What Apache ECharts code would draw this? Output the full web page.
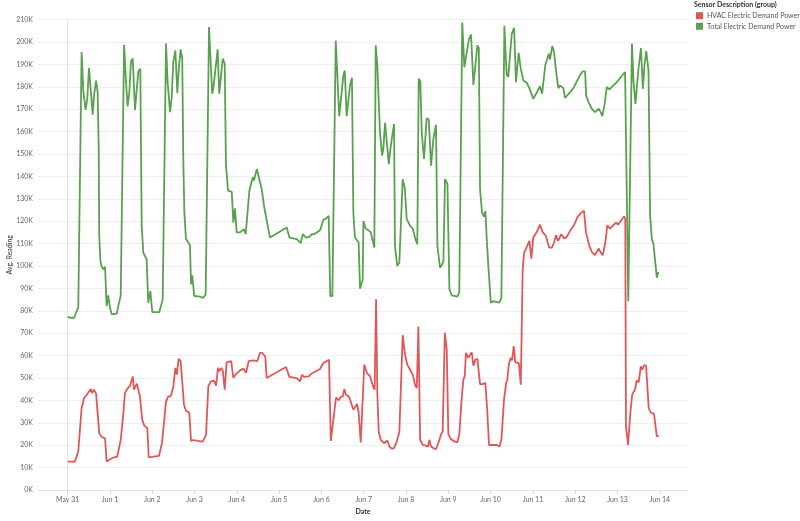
<!DOCTYPE html>
<html>
<head>
<meta charset="utf-8">
<script src="https://cdn.jsdelivr.net/npm/echarts@6/dist/echarts.min.js"></script>
<style>
html,body{margin:0;padding:0;background:#fff;}
#chart{width:800px;height:521px;}
</style>
</head>
<body>
<div id="chart"></div>
<script>
// Tick labels (one per day, at hour offsets 0,24,...,336 from May 31 00:00)
const dayLabels = ['May 31','Jun 1','Jun 2','Jun 3','Jun 4','Jun 5','Jun 6','Jun 7','Jun 8','Jun 9','Jun 10','Jun 11','Jun 12','Jun 13','Jun 14'];
const seriesNames = ['HVAC Electric Demand Power','Total Electric Demand Power'];

// [hours since May 31 00:00, average reading]
const hvacPoints = [[0,12700],[4.1,12700],[6.0,17200],[7.9,36600],[9.3,41000],[10.8,42500],[11.7,41800],[13.1,45100],[13.8,43300],[14.9,44800],[16.1,43000],[17.0,34300],[17.9,25400],[19.3,23600],[21.2,23100],[22.1,12700],[24.0,13700],[25.9,14500],[28.1,14900],[30.1,22400],[31.6,34300],[32.5,43300],[33.5,44800],[35.4,46600],[36.1,46300],[36.9,50700],[37.6,44800],[39.2,47500],[40.1,48000],[41.0,41800],[42.3,31300],[43.5,28700],[45.2,27600],[46.0,14600],[46.7,15200],[51.8,15200],[53.5,20900],[55.8,39500],[57.1,41800],[58.5,41800],[59.9,46000],[61.1,54500],[61.9,51500],[63.0,58500],[64.1,57500],[66.0,38100],[67.1,35400],[69.0,34600],[70.0,21900],[71.3,22300],[76.6,21600],[77.4,20900],[78.5,24600],[79.8,46300],[81.2,48500],[83.0,48800],[84.2,46600],[85.3,54500],[86.0,53000],[87.2,54500],[88.0,53400],[89.1,44800],[90.2,57000],[92.8,57500],[94.0,50000],[95.2,51500],[97.8,53400],[99.7,54200],[101.2,52300],[102.7,57500],[105.3,57900],[107.6,57500],[109.1,61200],[110.3,61200],[112.1,59700],[112.9,50000],[123.9,54900],[125.8,50500],[130.0,49900],[131.8,48500],[133.0,51400],[134.1,50500],[136.8,50700],[138.2,51900],[143.2,54000],[145.1,56700],[148.3,58100],[149.3,21900],[150.0,22400],[152.3,41300],[153.8,40000],[154.9,41500],[156.1,41800],[157.0,45100],[157.9,42500],[159.5,41800],[160.6,39500],[162.1,35800],[163.0,35500],[164.2,38400],[165.1,34600],[166.3,21200],[167.4,20500],[168.3,56000],[169.7,52300],[171.6,50700],[172.5,50300],[173.4,46000],[174.2,44800],[175.0,85100],[175.7,43300],[176.5,26100],[177.6,22400],[179.5,20900],[180.6,20600],[181.4,22100],[182.5,19400],[184.0,18400],[185.2,18700],[186.7,21600],[188.2,25800],[189.1,25800],[190.1,69100],[191.4,60500],[192.7,56000],[194.3,53700],[195.8,51500],[197.1,47000],[198.1,45500],[199.0,73000],[200.0,22400],[201.5,20100],[202.8,19900],[203.7,20100],[204.5,19400],[205.2,22400],[206.2,19400],[207.5,18700],[209.0,18200],[210.9,22400],[212.0,25100],[212.8,26100],[214.0,70200],[215.1,62700],[216.0,25100],[217.4,22700],[219.8,21600],[221.1,21300],[222.2,24600],[223.6,41000],[224.5,49300],[225.3,50700],[226.0,61200],[227.3,59000],[228.3,58200],[229.3,61500],[230.2,55500],[231.3,58200],[232.5,58500],[234.0,47300],[235.5,47300],[237.0,47800],[238.1,35100],[239.1,20100],[243.5,20100],[245.0,19400],[246.1,22400],[247.6,40300],[248.8,47800],[249.5,49300],[250.3,56000],[251.4,59000],[252.2,57900],[253.1,64200],[254.0,57000],[256.0,56700],[257.1,47000],[258.2,98500],[259.0,106000],[260.1,107800],[261.2,107200],[262.0,111200],[263.1,103300],[264.2,112700],[266.2,115200],[268.0,118500],[269.6,115000],[271.4,113400],[273.3,108200],[274.8,108200],[276.0,110500],[277.1,113700],[278.3,111200],[280.1,114200],[281.7,112300],[283.2,113000],[285.1,115700],[287.3,118200],[289.2,121700],[291.5,123900],[293.0,124600],[294.1,115000],[296.0,109000],[297.4,106300],[299.1,104800],[299.8,104800],[301.3,107800],[302.5,106000],[303.6,104800],[305.1,110500],[306.2,118200],[307.8,116700],[309.6,118200],[311.2,119400],[312.3,118400],[313.8,120100],[315.7,122100],[316.4,120900],[316.8,28300],[318.0,20100],[319.1,32800],[320.3,42500],[322.0,45100],[322.9,48900],[324.0,48000],[325.2,55200],[326.1,53700],[327.0,55700],[328.2,55500],[329.7,36600],[330.8,34600],[332.7,34000],[334.3,23900],[335.4,24200]];

const totalPoints = [[0,77300],[1.3,76900],[2.4,76100],[3.6,76900],[4.7,79100],[6.0,81400],[7.9,195500],[8.9,177600],[10.2,169700],[11.1,174600],[12.1,188400],[13.1,187600],[14.2,167500],[14.9,176100],[16.1,182800],[17.0,177600],[17.6,152300],[17.9,113400],[18.6,102000],[19.3,99700],[20.2,98500],[21.2,99700],[22.1,82100],[23.0,86900],[24.0,81400],[25.0,78400],[27.8,78700],[28.7,82100],[30.1,86900],[32.0,198800],[33.1,182100],[34.0,171200],[35.0,177600],[35.9,191300],[36.9,192600],[38.2,169700],[39.2,179100],[40.1,186900],[41.2,188100],[42.0,117900],[42.9,106000],[44.8,103000],[45.7,83600],[46.9,88800],[48.0,79400],[52.0,79400],[53.9,85100],[55.8,199300],[56.7,182100],[58.1,168700],[59.0,175000],[59.9,191000],[61.1,196300],[62.2,177200],[63.2,189600],[64.1,196700],[65.0,192600],[65.6,147800],[66.2,123900],[67.1,112300],[68.4,110500],[69.4,109300],[70.0,91800],[70.7,95800],[71.8,86600],[75.1,86300],[77.0,85800],[77.5,85100],[78.3,87300],[80.2,206700],[82.0,176900],[82.6,179100],[85.1,196700],[86.0,176900],[88.0,192600],[89.1,190300],[89.8,145300],[91.0,133600],[93.1,133100],[94.0,119400],[94.9,125700],[95.9,115000],[97.8,115000],[100.0,116400],[101.0,114200],[101.9,115000],[103.1,133600],[103.9,134000],[105.0,139600],[105.7,138100],[107.3,143300],[108.7,138800],[110.1,134300],[111.4,126900],[112.4,126100],[113.5,117900],[114.8,112700],[124.3,117200],[125.8,112700],[130.0,112000],[130.9,111200],[132.2,110200],[133.4,114200],[135.2,112700],[137.1,113000],[138.5,114200],[139.8,114200],[143.2,116000],[145.1,120600],[146.6,121200],[148.1,122400],[149.0,86600],[150.2,86600],[152.1,200700],[154.1,166900],[156.4,184800],[157.2,187300],[158.3,166900],[160.2,180600],[161.3,184000],[162.1,123900],[163.0,112700],[164.0,113200],[165.1,110500],[165.9,89900],[167.4,94000],[167.8,120100],[169.1,116700],[170.6,116000],[172.0,115000],[173.1,111200],[174.0,108200],[174.8,198500],[175.7,189600],[177.2,159700],[178.4,149300],[179.1,152300],[180.1,163900],[181.0,164200],[182.2,145500],[182.9,150800],[183.9,156700],[185.2,163400],[185.7,109000],[187.0,100000],[188.2,101500],[190.1,138800],[191.3,134700],[192.4,120900],[194.3,117900],[195.8,116700],[196.6,116000],[197.3,112000],[198.4,109700],[199.2,183600],[200.1,182600],[200.9,159700],[202.2,147800],[203.7,166000],[204.9,165400],[206.2,144800],[207.5,156700],[209.0,163000],[209.8,109000],[211.3,99300],[212.5,100700],[213.2,102200],[214.1,138800],[215.5,136600],[216.6,89600],[217.9,86900],[221.1,86300],[222.2,88100],[223.9,208700],[225.1,188800],[226.0,188100],[227.7,201300],[228.9,203300],[230.2,180900],[232.5,198500],[233.3,197300],[234.0,134300],[235.1,123900],[236.3,122100],[237.0,124600],[237.8,112000],[238.7,100000],[240.1,83600],[241.5,84300],[244.9,83600],[246.1,85800],[247.8,207200],[249.1,185400],[250.0,184400],[252.0,203700],[253.3,206300],[254.4,182100],[255.9,195200],[257.1,188100],[258.6,182800],[260.5,181800],[262.0,179400],[264.2,174600],[266.5,177900],[268.0,180300],[269.2,176900],[269.9,176100],[271.0,189600],[271.8,189300],[273.0,194800],[273.7,192200],[275.0,198200],[276.0,195500],[277.1,187300],[278.4,179400],[279.4,180600],[280.5,180900],[281.3,179400],[282.2,175000],[283.2,175900],[285.1,177600],[287.0,179400],[288.9,182400],[290.4,184800],[292.3,186900],[293.6,186900],[294.2,176100],[295.5,173200],[297.4,170200],[299.3,168700],[300.2,168700],[301.3,170200],[302.5,168700],[303.4,166900],[304.7,172400],[305.9,179900],[307.4,178800],[308.2,178000],[311.6,182100],[314.4,184800],[316.3,186600],[318.1,84300],[320.2,199300],[321.1,182100],[322.2,172400],[323.8,187300],[325.3,197300],[326.4,179100],[327.3,189600],[328.3,195900],[329.6,187300],[330.5,122400],[331.5,112000],[332.4,109700],[333.0,110500],[334.3,94800],[335.2,97300]];

const dayTicks = dayLabels.map((_, i) => i * 24);

const FONT = 'Lato, "Open Sans", sans-serif';
const chart = echarts.init(document.getElementById('chart'), null, {renderer: 'canvas'});
chart.setOption({
  animation: false,
  color: ['#e15759', '#59a14f'],
  textStyle: {fontFamily: FONT},
  title: {
    text: 'Sensor Description (group)',
    left: 694, top: 1.5, padding: 0,
    textStyle: {fontSize: 7, fontWeight: 'bold', color: '#333', fontFamily: FONT}
  },
  legend: {
    data: seriesNames,
    orient: 'vertical',
    left: 696, top: 10.7, padding: 0,
    icon: 'rect', itemWidth: 7, itemHeight: 7, itemGap: 0.6,
    textStyle: {fontSize: 7, color: '#555', lineHeight: 10, fontFamily: FONT, padding: [0,0,0,-1]}
  },
  grid: {left: 38, right: 112, top: 19.6, bottom: 31, containLabel: false, outerBoundsMode: 'none'},
  xAxis: {
    type: 'value',
    min: -16.85, max: 352,
    name: 'Date', nameLocation: 'middle', nameGap: 18, nameMoveOverlap: false,
    nameTextStyle: {fontSize: 7, fontWeight: 'bold', color: '#333', fontFamily: FONT},
    axisLine: {show: true, lineStyle: {color: '#e3e3e3', width: 1}},
    axisTick: {show: true, customValues: dayTicks, length: 4, lineStyle: {color: '#d6d6d6'}},
    axisLabel: {customValues: dayTicks, fontSize: 7, color: '#666', margin: 6, fontFamily: FONT,
      formatter: v => dayLabels[Math.round(v / 24)] || ''},
    splitLine: {show: false}
  },
  yAxis: {
    type: 'value',
    min: 0, max: 210000, interval: 10000,
    name: 'Avg. Reading', nameLocation: 'middle', nameGap: 25, nameRotate: 90, nameMoveOverlap: false,
    nameTextStyle: {fontSize: 7, color: '#333', fontFamily: FONT},
    axisLine: {show: true, lineStyle: {color: '#e3e3e3', width: 1}},
    axisTick: {show: false},
    axisLabel: {fontSize: 7, color: '#666', margin: 5, fontFamily: FONT,
      formatter: v => (v / 1000) + 'K'},
    splitLine: {show: true, lineStyle: {color: '#f0f0f0', width: 1}}
  },
  series: [
    {name: seriesNames[0], type: 'line', data: hvacPoints, showSymbol: false, symbol: 'none',
     lineStyle: {width: 1.8, color: '#e15759'}, itemStyle: {color: '#e15759'}, z: 3},
    {name: seriesNames[1], type: 'line', data: totalPoints, showSymbol: false, symbol: 'none',
     lineStyle: {width: 1.8, color: '#59a14f'}, itemStyle: {color: '#59a14f'}, z: 2}
  ]
});
</script>
</body>
</html>
